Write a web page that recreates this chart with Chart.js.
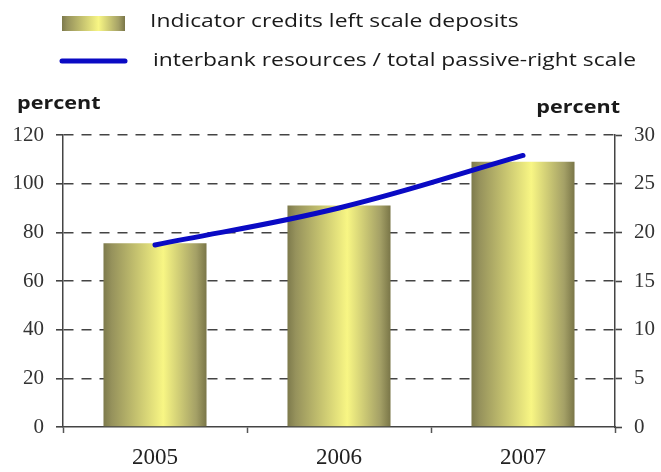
<!DOCTYPE html>
<html lang="en">

<head>
    <meta charset="UTF-8">
    <title>credits / deposits</title>
    <script src="https://cdn.jsdelivr.net/npm/chart.js"></script>
    <style>
        html, body { margin: 0; padding: 0; background: #fff; }
        #wrap { width: 661px; height: 472px; }
    </style>
</head>

<body>
    <div id="wrap">
        <canvas id="myChart"></canvas>
    </div>
    <script>
        // data
        var years = ['2005', '2006', '2007'];
        var creditsDeposits = [75.5, 91, 109];        // left scale
        var interbankShare = [18.7, 22.5, 27.9];      // right scale
        var leftTicks = [0, 20, 40, 60, 80, 100, 120];
        var rightTicks = [0, 5, 10, 15, 20, 25, 30];
        var barLabel = 'Indicator credits left scale deposits';
        var lineLabel = 'interbank resources / total passive-right scale';
        var axisTitle = 'percent';

        function olive(ctx, x0, x1) {
            var g = ctx.createLinearGradient(x0, 0, x1, 0);
            g.addColorStop(0, '#7d7a4c');
            g.addColorStop(0.08, '#96925c');
            g.addColorStop(0.58, '#f8f684');
            g.addColorStop(0.9, '#a4a066');
            g.addColorStop(1, '#7a7648');
            return g;
        }

        // gradient on each bar
        var barShade = {
            id: 'barShade',
            beforeDatasetsDraw: function (chart) {
                var meta = chart.getDatasetMeta(0);
                meta.data.forEach(function (el) {
                    el.options.backgroundColor = olive(chart.ctx, el.x - el.width / 2, el.x + el.width / 2);
                });
            }
        };

        // stretched text, like the wide letters of the picture
        function wideText(ctx, txt, x, y, sx, align) {
            ctx.save();
            ctx.translate(x, y);
            ctx.scale(sx, 1);
            ctx.textAlign = align || 'left';
            ctx.fillText(txt, 0, 0);
            ctx.restore();
        }

        // legend + "percent" titles
        var extras = {
            id: 'extras',
            afterDraw: function (chart) {
                var ctx = chart.ctx;
                ctx.save();
                ctx.fillStyle = olive(ctx, 62, 125);
                ctx.fillRect(62, 16, 63, 15);

                ctx.strokeStyle = '#0a0ac4';
                ctx.lineWidth = 5;
                ctx.lineCap = 'round';
                ctx.beginPath();
                ctx.moveTo(62, 61);
                ctx.lineTo(125, 61);
                ctx.stroke();

                ctx.fillStyle = '#1a1a1a';
                ctx.font = '18px "Open Sans"';
                ctx.textBaseline = 'middle';
                wideText(ctx, barLabel, 150, 22, 1.27);
                wideText(ctx, lineLabel, 153, 61, 1.27);

                ctx.font = 'bold 17px "Open Sans"';
                wideText(ctx, axisTitle, 17, 104, 1.27);
                wideText(ctx, axisTitle, 620, 108, 1.27, 'right');
                ctx.restore();
            }
        };

        var ctx = document.getElementById('myChart');
        var myChart = new Chart(ctx, {
            data: {
                labels: years,
                datasets: [{
                    type: 'bar',
                    label: barLabel,
                    data: creditsDeposits,
                    yAxisID: 'y',
                    // scriptable so every bar keeps its own options object
                    backgroundColor: function (c) { return '#c8c478'; },
                    barPercentage: 0.56,
                    categoryPercentage: 1,
                    order: 2
                }, {
                    type: 'line',
                    label: lineLabel,
                    data: interbankShare,
                    yAxisID: 'y1',
                    borderColor: '#0a0ac4',
                    borderWidth: 5,
                    borderCapStyle: 'round',
                    pointRadius: 0,
                    tension: 0.4,
                    fill: false,
                    order: 1
                }]
            },
            options: {
                responsive: true,
                maintainAspectRatio: false,
                animation: false,
                layout: { padding: { top: 135, left: 0, right: 0, bottom: 0 } },
                plugins: {
                    legend: { display: false },
                    tooltip: { enabled: false }
                },
                scales: {
                    x: {
                        offset: true,
                        grid: {
                            offset: true,
                            drawOnChartArea: false,
                            tickLength: 6,
                            tickColor: '#555',
                            tickWidth: 1.5
                        },
                        border: { color: '#444', width: 1.5 },
                        ticks: {
                            color: '#222',
                            padding: 11,
                            font: { family: '"Liberation Serif"', size: 23 }
                        },
                        afterFit: function (s) { s.height = 45; }
                    },
                    y: {
                        position: 'left',
                        min: 0,
                        max: 120,
                        afterBuildTicks: function (s) {
                            s.ticks = leftTicks.map(function (v) { return { value: v }; });
                        },
                        grid: {
                            color: function (c) { return c.tick && c.tick.value === 0 ? 'rgba(0,0,0,0)' : '#444'; },
                            lineWidth: 1.6,
                            tickLength: 7,
                            tickColor: '#444',
                            tickWidth: 1.6
                        },
                        border: { color: '#444', width: 1.5, dash: [10, 8] },
                        ticks: {
                            color: '#333',
                            padding: 12,
                            font: { family: '"Liberation Serif"', size: 21 }
                        },
                        afterFit: function (s) { s.width = 63; }
                    },
                    y1: {
                        position: 'right',
                        min: 0,
                        max: 30,
                        afterBuildTicks: function (s) {
                            s.ticks = rightTicks.map(function (v) { return { value: v }; });
                        },
                        grid: {
                            drawOnChartArea: false,
                            tickLength: 7,
                            tickColor: '#444',
                            tickWidth: 1.6
                        },
                        border: { color: '#444', width: 1.5 },
                        ticks: {
                            color: '#333',
                            padding: 12,
                            font: { family: '"Liberation Serif"', size: 21 }
                        },
                        afterFit: function (s) { s.width = 46; }
                    }
                }
            },
            plugins: [barShade, extras]
        });
    </script>

</body>

</html>
